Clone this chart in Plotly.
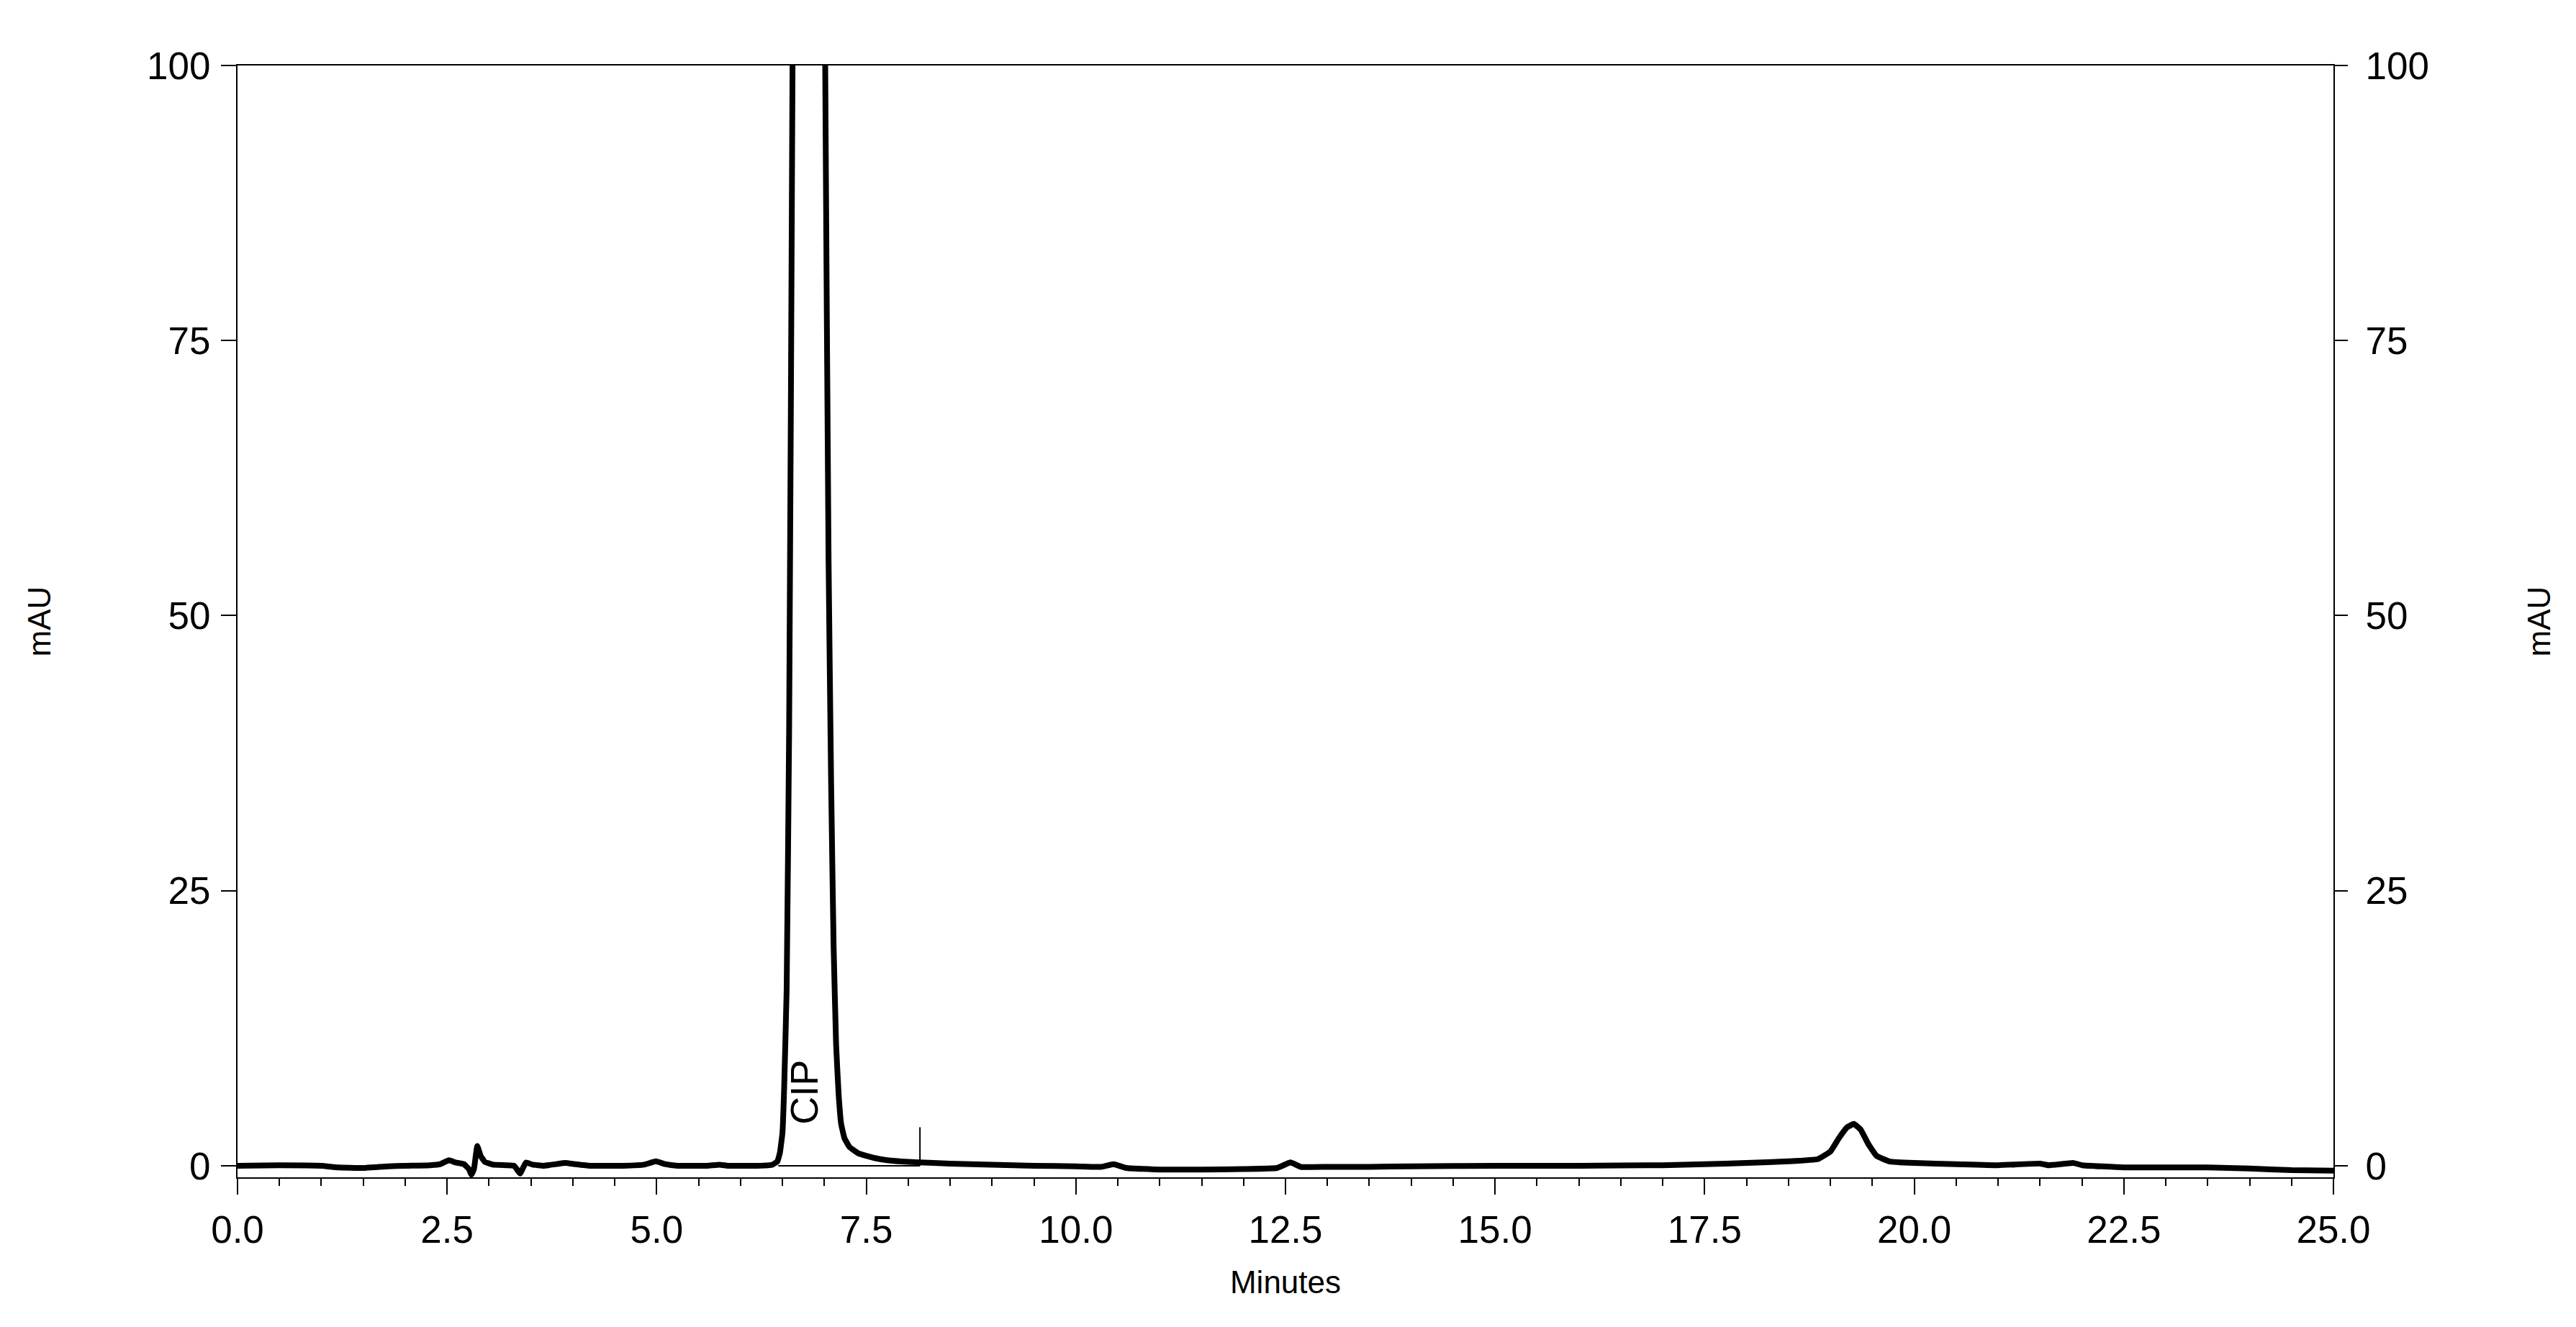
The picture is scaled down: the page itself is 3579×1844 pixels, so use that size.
import plotly.graph_objects as go

# Chromatogram trace (minutes, mAU)
time_min = [
    0.00, 0.50, 1.00, 1.20, 1.50, 1.80, 2.00, 2.30, 2.42, 2.52,
    2.60, 2.70, 2.76, 2.79, 2.82, 2.86, 2.90, 2.95, 3.05, 3.20,
    3.30, 3.37, 3.44, 3.52, 3.65, 3.80, 3.91, 4.02, 4.20, 4.60,
    4.85, 4.99, 5.10, 5.25, 5.60, 5.75, 5.85, 6.20, 6.38, 6.44,
    6.47, 6.50, 6.52, 6.55, 6.58, 6.62, 6.70, 6.82, 6.93, 7.01,
    7.05, 7.08, 7.11, 7.14, 7.17, 7.20, 7.24, 7.30, 7.40, 7.50,
    7.60, 7.75, 8.00, 8.50, 9.00, 9.50, 10.00, 10.30, 10.45, 10.60,
    11.00, 11.50, 12.00, 12.40, 12.56, 12.68, 13.00, 13.50, 14.00, 15.00,
    16.00, 17.00, 17.50, 18.00, 18.50, 18.85, 19.00, 19.10, 19.20, 19.28,
    19.36, 19.45, 19.55, 19.70, 20.00, 20.50, 21.00, 21.50, 21.60, 21.90,
    22.00, 22.50, 23.50, 24.00, 24.50, 25.00,
]
signal_mau = [
    0.00, 0.05, 0.00, -0.15, -0.20, -0.05, 0.00, 0.05, 0.15, 0.50,
    0.30, 0.15, -0.30, -0.80, -0.30, 1.80, 0.90, 0.35, 0.10, 0.05,
    0.00, -0.70, 0.30, 0.10, 0.00, 0.15, 0.25, 0.15, 0.00, 0.00,
    0.10, 0.40, 0.15, 0.00, 0.00, 0.10, 0.00, 0.00, 0.10, 0.40,
    1.2, 3.0, 7.0, 16.0, 40.0, 100.0, 350.0, 500.0, 350.0, 100.0,
    55.0, 35.0, 20.0, 11.0, 6.5, 3.8, 2.5, 1.7, 1.15, 0.90,
    0.70, 0.50, 0.35, 0.20, 0.10, 0.00, -0.05, -0.10, 0.15, -0.20,
    -0.35, -0.35, -0.30, -0.20, 0.30, -0.10, -0.10, -0.10, -0.05, 0.00,
    0.00, 0.05, 0.15, 0.25, 0.40, 0.60, 1.30, 2.50, 3.50, 3.80,
    3.30, 2.00, 0.90, 0.40, 0.25, 0.15, 0.05, 0.20, 0.05, 0.25,
    0.05, -0.15, -0.15, -0.25, -0.40, -0.45,
]

# integration baseline and peak end marker for the CIP peak
cip_base_x = [6.45, 8.14]
cip_base_y = [0.0, 0.0]
cip_end_x = [8.14, 8.14]
cip_end_y = [0.0, 3.5]

y_ticks = [0, 25, 50, 75, 100]
x_ticks = [0.0, 2.5, 5.0, 7.5, 10.0, 12.5, 15.0, 17.5, 20.0, 22.5, 25.0]
x_tick_text = [f"{v:.1f}" for v in x_ticks]

FONT = "Liberation Sans, Arial, sans-serif"
Y_RANGE = [-1.05, 100]

fig = go.Figure()

fig.add_trace(go.Scatter(
    x=time_min, y=signal_mau, mode="lines",
    line=dict(color="black", width=8, shape="spline", smoothing=0.3),
    showlegend=False, hoverinfo="x+y",
))

fig.add_trace(go.Scatter(
    x=cip_base_x, y=cip_base_y, mode="lines",
    line=dict(color="black", width=2), showlegend=False, yaxis="y2",
))
fig.add_trace(go.Scatter(
    x=cip_end_x, y=cip_end_y, mode="lines",
    line=dict(color="black", width=2), showlegend=False, yaxis="y2",
))

fig.add_annotation(
    x=6.75, y=6.7, text="CIP", textangle=-90, showarrow=False,
    font=dict(family=FONT, size=54, color="black"),
)

axis_common = dict(
    showgrid=False, zeroline=False, showline=True, linecolor="black",
    linewidth=2, ticks="outside", tickcolor="black", tickwidth=2,
    automargin=False,
    tickfont=dict(family=FONT, size=53, color="black"),
)

# page body has an 8px margin, so the figure is a bit smaller than the window
fig.update_layout(
    width=3563, height=1828,
    paper_bgcolor="white", plot_bgcolor="white",
    margin=dict(l=322, r=329, t=83, b=200),
    font=dict(family=FONT, color="black"),
    xaxis=dict(
        **axis_common, range=[0, 25], tickvals=x_ticks, ticktext=x_tick_text,
        ticklen=22, mirror=True, ticklabelstandoff=3,
        minor=dict(tickvals=[i * 0.5 for i in range(51)], ticks="outside",
                   ticklen=10, tickwidth=1.5, tickcolor="black"),
        title=dict(text="Minutes", font=dict(family=FONT, size=44), standoff=30),
    ),
    yaxis=dict(
        **axis_common, range=Y_RANGE, tickvals=y_ticks, ticklen=21,
        ticklabelstandoff=4,
        title=dict(text="mAU", font=dict(family=FONT, size=44), standoff=120),
    ),
    yaxis2=dict(
        **axis_common, range=Y_RANGE, tickvals=y_ticks, ticklen=18,
        overlaying="y", side="right", ticklabelstandoff=14,
        title=dict(text="mAU", font=dict(family=FONT, size=44), standoff=138),
    ),
)

fig.write_html("out.html")
